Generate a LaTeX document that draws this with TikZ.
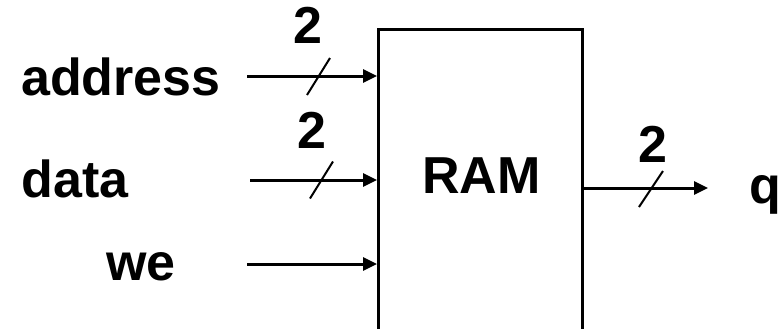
\documentclass[tikz,border=0pt]{standalone}
\usepackage{fontspec}
\setmainfont{Liberation Sans}
\usetikzlibrary{arrows.meta,positioning,calc}

\begin{document}
\begin{tikzpicture}[
  x=0.5pt, y=-0.5pt,
  lbl/.style={inner sep=0pt, font=\fontsize{26}{30}\selectfont\bfseries},
  blk/.style={draw, line width=1.5pt, minimum width=102pt, minimum height=160pt, inner sep=0pt},
  arr/.style={-{Triangle[length=7pt,width=6.5pt]}, line width=1.5pt},
  slash/.style={line width=1pt}
]
\useasboundingbox (0,0) rectangle (781,328);
\clip (0,0) rectangle (781,328);

\node[blk, anchor=north west] (ram) at (377,28) {};
\node[lbl, anchor=base] (ramtxt) at (481.5,193) {RAM};

\node[lbl, anchor=base east] (addr) at (221,95) {address};
\node[lbl, anchor=base east] (data) at (129,197) {data};
\node[lbl, anchor=base east] (we) at (176,280) {we};
\node[lbl, anchor=base west] (q) at (749,203) {q};

\coordinate (a0) at (247,76);
\coordinate (d0) at (250,180);
\coordinate (w0) at (247,264);
\coordinate (q0) at (708,188);

\draw[arr] (a0) -- (a0 -| ram.west);
\draw[arr] (d0) -- (d0 -| ram.west);
\draw[arr] (w0) -- (w0 -| ram.west);
\draw[arr] (q0 -| ram.east) -- (q0);

% bus widths
\draw[slash] (318.5,76.5) ++(-11.5,18.5) -- ++(23,-37);
\draw[slash] (321.5,180) ++(-11.5,18.5) -- ++(23,-37);
\draw[slash] (651,189) ++(-12,18) -- ++(24,-36);
\node[lbl, anchor=base] (wa) at (308,43) {2};
\node[lbl, anchor=base] (wd) at (311.5,148) {2};
\node[lbl, anchor=base] (wq) at (652.5,162) {2};
\end{tikzpicture}
\end{document}
